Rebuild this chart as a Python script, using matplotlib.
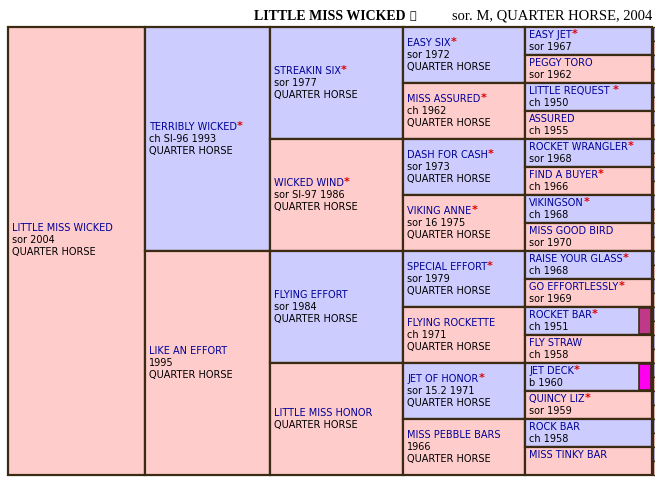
import matplotlib
matplotlib.use("Agg")
import matplotlib.pyplot as plt
from matplotlib.patches import Rectangle

title_bold = "LITTLE MISS WICKED"
title_icon = "\u24d8"
title_rest = "sor. M, QUARTER HORSE, 2004"

gen_names = [
    ["LITTLE MISS WICKED"],
    ["TERRIBLY WICKED", "LIKE AN EFFORT"],
    ["STREAKIN SIX", "WICKED WIND", "FLYING EFFORT", "LITTLE MISS HONOR"],
    ["EASY SIX", "MISS ASSURED", "DASH FOR CASH", "VIKING ANNE",
     "SPECIAL EFFORT", "FLYING ROCKETTE", "JET OF HONOR", "MISS PEBBLE BARS"],
    ["EASY JET", "PEGGY TORO", "LITTLE REQUEST ", "ASSURED", "ROCKET WRANGLER",
     "FIND A BUYER", "VIKINGSON", "MISS GOOD BIRD", "RAISE YOUR GLASS",
     "GO EFFORTLESSLY", "ROCKET BAR", "FLY STRAW", "JET DECK", "QUINCY LIZ",
     "ROCK BAR", "MISS TINKY BAR"],
]
gen_stars = [
    [0], [1, 0], [1, 1, 0, 0], [1, 1, 1, 1, 1, 0, 1, 0],
    [1, 0, 1, 0, 1, 1, 1, 0, 1, 1, 1, 0, 1, 1, 0, 0],
]
gen_info = [
    ["sor 2004"],
    ["ch SI-96 1993", "1995"],
    ["sor 1977", "sor SI-97 1986", "sor 1984", ""],
    ["sor 1972", "ch 1962", "sor 1973", "sor 16 1975", "sor 1979", "ch 1971",
     "sor 15.2 1971", "1966"],
    ["sor 1967", "sor 1962", "ch 1950", "ch 1955", "sor 1968", "ch 1966",
     "ch 1968", "sor 1970", "ch 1968", "sor 1969", "ch 1951", "ch 1958",
     "b 1960", "sor 1959", "ch 1958", ""],
]
gen_breed = ["QUARTER HORSE", "QUARTER HORSE", "QUARTER HORSE", "QUARTER HORSE", ""]
marker_colors = {10: "#c03888", 12: "#ff00ee"}

col_x = [8, 145, 270, 403, 525, 652]
top, bottom = 27, 475
BLUE, PINK, EDGE = "#ccccff", "#ffcccc", "#3b2b12"
NAMEC, STARC = "#000099", "#dd0000"

fig = plt.figure(figsize=(6.55, 4.8), dpi=100)
ax = fig.add_axes([0, 0, 1, 1])
ax.set_xlim(0, 655)
ax.set_ylim(480, 0)
ax.axis("off")
r = fig.canvas.get_renderer()
fs = 7.0
lh = 12

for g, names in enumerate(gen_names):
    n = len(names)
    h = (bottom - top) / n
    x0, x1 = col_x[g], col_x[g + 1]
    for i, nm in enumerate(names):
        y0 = top + i * h
        female = (i % 2 == 1) if g > 0 else True
        ax.add_patch(Rectangle((x0, y0), x1 - x0, h, facecolor=PINK if female else BLUE,
                               edgecolor=EDGE, lw=1.6))
        lines = [nm]
        if gen_info[g][i]:
            lines.append(gen_info[g][i])
        if gen_breed[g]:
            lines.append(gen_breed[g])
        if g == 4:
            ystart = y0 + 8
        else:
            ystart = y0 + h / 2 - (len(lines) - 1) * lh / 2
            if g == 0:
                ystart -= 11
        tx = x0 + 4
        for k, ln in enumerate(lines):
            t = ax.text(tx, ystart + k * lh, ln, fontsize=fs, va="center", ha="left",
                        color=NAMEC if k == 0 else "black", family="DejaVu Sans")
            if k == 0 and gen_stars[g][i]:
                bb = t.get_window_extent(r)
                sx = bb.x1 / fig.dpi / 6.55 * 655
                ax.text(sx, ystart - 1, "*", fontsize=8, va="center", ha="left",
                        color=STARC, weight="bold")
        if g == 4 and i in marker_colors:
            ax.add_patch(Rectangle((x1 - 13, y0 + 1), 12, h - 2,
                                   facecolor=marker_colors[i], edgecolor=EDGE, lw=1.2))
        if g == 4:
            for j in range(2):
                ax.add_patch(Rectangle((x1 + 1, y0 + j * h / 2), 4, h / 2,
                                       facecolor=PINK if j else BLUE, edgecolor=EDGE, lw=1))

ax.text(406, 16, title_bold, fontsize=10, weight="bold", family="Liberation Serif",
        ha="right", va="center")
ax.text(409, 16, title_icon, fontsize=8, family="DejaVu Sans", ha="left", va="center")
ax.text(652, 16, title_rest, fontsize=10.5, family="Liberation Serif", ha="right", va="center")

fig.savefig("out.png", dpi=100)
